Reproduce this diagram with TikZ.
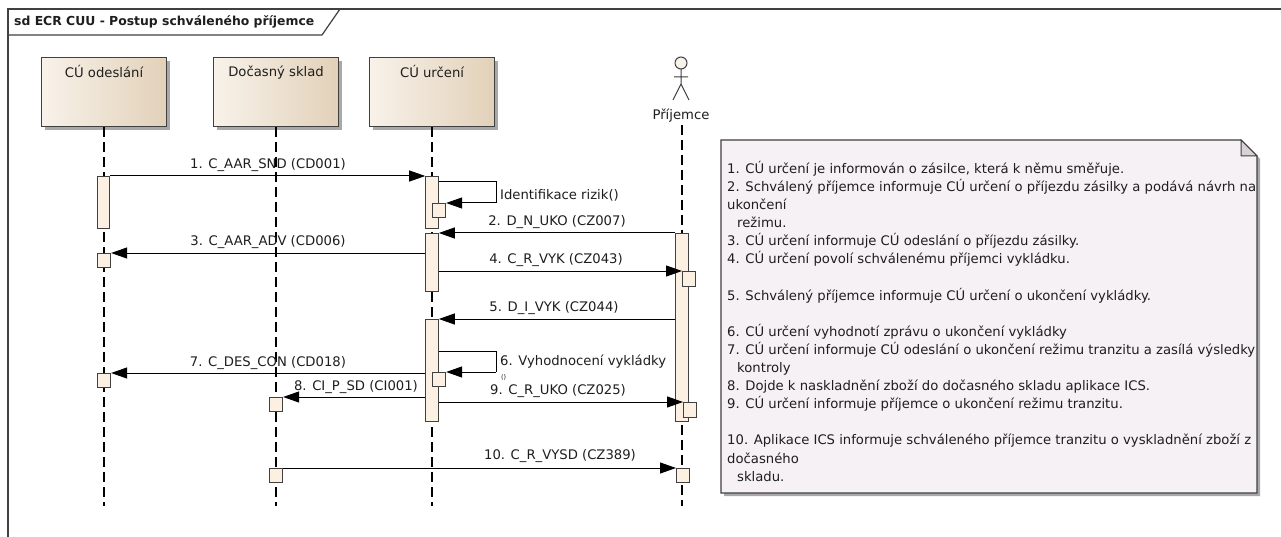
\documentclass[tikz,border=0pt]{standalone}
\usepackage{fontspec}
\setmainfont{DejaVu Sans}
\usetikzlibrary{arrows.meta,shadows}
\definecolor{frameC}{HTML}{404040}
\definecolor{headL}{HTML}{F8F2EA}
\definecolor{headR}{HTML}{E2D1B9}
\definecolor{actF}{HTML}{FBF0E2}
\definecolor{noteF}{HTML}{F6F1F5}
\definecolor{foldF}{HTML}{D6D2D6}
\definecolor{shadowC}{HTML}{A8A8A8}
\definecolor{txt}{HTML}{1E1E1E}
\newcommand{\lblfont}{\fontsize{13.2}{15}\selectfont}
\tikzset{
  headbox/.style={draw=frameC, line width=1.1pt, left color=headL, right color=headR,
    minimum width=125pt, minimum height=69pt, inner sep=0pt, anchor=north west,
    drop shadow={shadow xshift=3pt, shadow yshift=-3pt, fill=shadowC, opacity=1}},
  headtxt/.style={font=\lblfont, text=txt, anchor=north},
  lifeline/.style={draw=black, line width=1.1pt, dash pattern=on 10pt off 5pt},
  act/.style={draw=frameC, line width=1.1pt, fill=actF, minimum width=12.5pt, inner sep=0pt, anchor=north},
  sbox/.style={draw=frameC, line width=1.1pt, fill=actF, minimum width=13pt, minimum height=14pt, inner sep=0pt, anchor=north west},
  msg/.style={draw=black, line width=1pt, -{Triangle[length=16pt,width=11pt]}},
  selfm/.style={draw=black, line width=1pt},
  lbl/.style={font=\lblfont, text=txt, inner sep=0pt},
}
\begin{document}
\begin{tikzpicture}[x=1pt,y=-1pt]
\useasboundingbox (0,0) rectangle (1281,537);
\fill[white] (0,0) rectangle (1281,537);
% frame
\draw[frameC, line width=1.2pt] (1281,9) -- (8,9) -- (8,537);
\draw[frameC, line width=1.2pt] (8,35) -- (322,35) -- (340,9);
\node[anchor=west, font=\bfseries\fontsize{12.4}{14}\selectfont, text=txt, inner sep=0pt] (title) at (14,22) {sd ECR CUU - Postup schváleného příjemce};

% lifeline heads
\node[headbox] (odes) at (41,57) {};
\node[headbox] (sklad) at (213,57) {};
\node[headbox] (urc) at (369,57) {};
\node[headtxt] (odesT) at ([yshift=-5pt]odes.north) {CÚ odeslání};
\node[headtxt] (skladT) at ([yshift=-5pt]sklad.north) {Dočasný sklad};
\node[headtxt] (urcT) at ([yshift=-5pt]urc.north) {CÚ určení};

% actor
\draw[frameC, line width=1pt, fill=headL] (681,63) circle (6pt);
\draw[frameC, line width=1pt] (681,69) -- (681,84) (674,77) -- (688,77) (673,100) -- (681,84) -- (689,100);
\node[lbl] (prij) at (681,116) {Příjemce};

% lifelines
\coordinate (odesEnd) at (104,506);
\coordinate (skladEnd) at (276,506);
\coordinate (urcEnd) at (432,506);
\coordinate (prijEnd) at (682,506);
\draw[lifeline] (odes.south -| odesEnd) -- (odesEnd);
\draw[lifeline] (sklad.south -| skladEnd) -- (skladEnd);
\draw[lifeline] (urc.south -| urcEnd) -- (urcEnd);
\draw[lifeline] (682,125) -- (prijEnd);

% activations
\node[act, minimum height=52pt] (A1) at (103.5,176) {};
\node[act, minimum height=52pt] (U1) at (432,176) {};
\node[act, minimum height=58pt] (U2) at (432,233) {};
\node[act, minimum height=188pt] (P1) at (682,233) {};
\node[act, minimum height=102pt] (U3) at (432,319) {};
\node[sbox] (S1) at (432,203) {};
\node[sbox] (O2) at (97,253) {};
\node[sbox, minimum height=15pt] (P2) at (682,271) {};
\node[sbox] (S6) at (432,372) {};
\node[sbox] (O3) at (97,373) {};
\node[sbox] (K1) at (269,397) {};
\node[sbox, minimum height=15pt] (P3) at (683,402) {};
\node[sbox] (K2) at (269,468) {};
\node[sbox, minimum width=12.5pt] (P4) at (676,468) {};

% messages
\draw[msg] (A1.north east) -- (U1.north west);
\node[lbl] (L1) at (268,165) {1. C\_AAR\_SND (CD001)};
\coordinate (r1a) at (496,182);
\coordinate (r1b) at (496,203);
\draw[selfm] (U1.east |- r1a) -- (r1a) -- (r1b);
\draw[msg] (r1b) -- (S1.north east);
\node[lbl, anchor=west] (Lr1) at (500,195) {Identifikace rizik()};
\draw[msg] (P1.north west) -- (U2.north east);
\node[lbl] (L2) at (557,222) {2. D\_N\_UKO (CZ007)};
\draw[msg] (U2.west |- O2.north) -- (O2.north east);
\node[lbl] (L3) at (268,242) {3. C\_AAR\_ADV (CD006)};
\draw[msg] (U2.east |- P2.north) -- (P2.north west);
\node[lbl] (L4) at (556,260) {4. C\_R\_VYK (CZ043)};
\draw[msg] (P1.west |- U3.north) -- (U3.north east);
\node[lbl] (L5) at (554,308) {5. D\_I\_VYK (CZ044)};
\coordinate (r6a) at (496,351);
\coordinate (r6b) at (496,372);
\draw[selfm] (U3.east |- r6a) -- (r6a) -- (r6b);
\draw[msg] (r6b) -- (S6.north east);
\node[lbl, anchor=west] (Lr6) at (500,362) {6. Vyhodnocení vykládky};
\node[lbl, anchor=west, font=\fontsize{6.5}{7}\selectfont] (Lr6b) at (501,377) {()};
\draw[msg] (U3.west |- O3.north) -- (O3.north east);
\node[lbl] (L7) at (268,363) {7. C\_DES\_CON (CD018)};
\draw[msg] (U3.west |- K1.north) -- (K1.north east);
\node[lbl] (L8) at (356,387) {8. CI\_P\_SD (CI001)};
\draw[msg] (U3.east |- P3.north) -- (P3.north west);
\node[lbl] (L9) at (558,391) {9. C\_R\_UKO (CZ025)};
\draw[msg] (K2.north east) -- (P4.north west);
\node[lbl] (L10) at (560,456) {10. C\_R\_VYSD (CZ389)};

% note
\fill[shadowC] (724,143) -- (1244,143) -- (1260,159) -- (1260,496) -- (724,496) -- cycle;
\draw[frameC, line width=1.1pt, fill=noteF] (721,140) -- (1241,140) -- (1257,156) -- (1257,493) -- (721,493) -- cycle;
\draw[frameC, line width=1pt, fill=foldF] (1241,140) -- (1241,156) -- (1257,156) -- cycle;
\node[anchor=north west, align=left, inner sep=0pt, text=txt, font=\fontsize{13.2}{18.1}\selectfont] (note) at (727,161) {%
1. CÚ určení je informován o zásilce, která k němu směřuje.\\
2. Schválený příjemce informuje CÚ určení o příjezdu zásilky a podává návrh na\\
ukončení\\
\hspace*{10pt}režimu.\\
3. CÚ určení informuje CÚ odeslání o příjezdu zásilky.\\
4. CÚ určení povolí schválenému příjemci vykládku.\\
~\\
5. Schválený příjemce informuje CÚ určení o ukončení vykládky.\\
~\\
6. CÚ určení vyhodnotí zprávu o ukončení vykládky\\
7. CÚ určení informuje CÚ odeslání o ukončení režimu tranzitu a zasílá výsledky\\
\hspace*{10pt}kontroly\\
8. Dojde k naskladnění zboží do dočasného skladu aplikace ICS.\\
9. CÚ určení informuje příjemce o ukončení režimu tranzitu.\\
~\\
10. Aplikace ICS informuje schváleného příjemce tranzitu o vyskladnění zboží z\\
dočasného\\
\hspace*{10pt}skladu.};
\end{tikzpicture}
\end{document}
